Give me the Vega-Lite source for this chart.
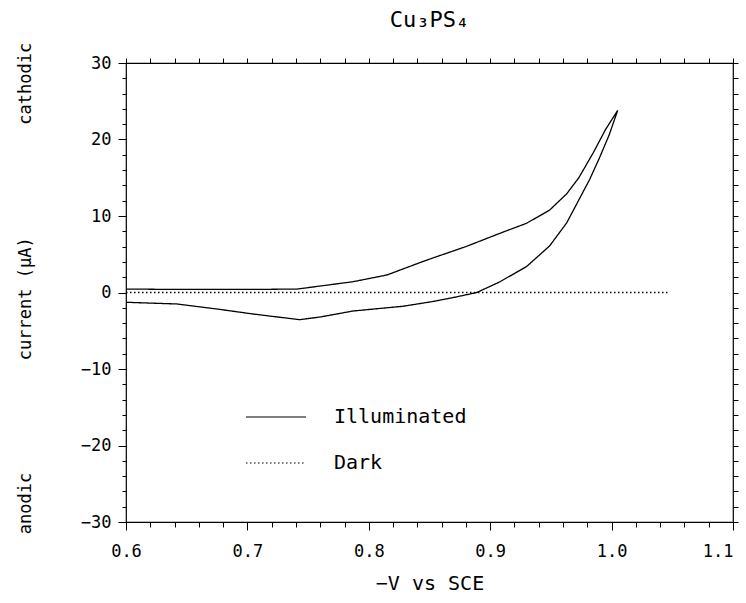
{
  "$schema": "https://vega.github.io/schema/vega-lite/v6.json",
  "width": 607,
  "height": 459,
  "autosize": {"type": "none"},
  "padding": {"left": 126, "top": 63, "right": 13, "bottom": 81},
  "background": "white",
  "config": {
    "view": {"stroke": "black", "strokeWidth": 1.2},
    "font": "DejaVu Sans Mono",
    "axis": {
      "domain": false,
      "grid": false,
      "labelFont": "DejaVu Sans Mono",
      "labelFontSize": 17,
      "labelColor": "black",
      "tickColor": "black",
      "tickWidth": 1,
      "titleFont": "DejaVu Sans Mono",
      "titleColor": "black",
      "titleFontWeight": "normal",
      "labelFlush": false,
      "labelOverlap": false
    }
  },
  "title": {
    "text": "Cu\u2083PS\u2084",
    "font": "DejaVu Sans Mono",
    "fontSize": 22,
    "fontWeight": "normal",
    "color": "black",
    "offset": 10
  },
  "data": {
    "values": [
      {"series": "Illuminated", "k": 1, "v": 0.600, "i": 0.45},
      {"series": "Illuminated", "k": 2, "v": 0.642, "i": 0.40},
      {"series": "Illuminated", "k": 3, "v": 0.704, "i": 0.40},
      {"series": "Illuminated", "k": 4, "v": 0.741, "i": 0.45},
      {"series": "Illuminated", "k": 5, "v": 0.787, "i": 1.41},
      {"series": "Illuminated", "k": 6, "v": 0.815, "i": 2.29},
      {"series": "Illuminated", "k": 7, "v": 0.842, "i": 3.90},
      {"series": "Illuminated", "k": 8, "v": 0.852, "i": 4.47},
      {"series": "Illuminated", "k": 9, "v": 0.880, "i": 6.00},
      {"series": "Illuminated", "k": 10, "v": 0.908, "i": 7.74},
      {"series": "Illuminated", "k": 11, "v": 0.930, "i": 9.05},
      {"series": "Illuminated", "k": 12, "v": 0.949, "i": 10.78},
      {"series": "Illuminated", "k": 13, "v": 0.963, "i": 12.9},
      {"series": "Illuminated", "k": 14, "v": 0.973, "i": 15.0},
      {"series": "Illuminated", "k": 15, "v": 0.985, "i": 18.3},
      {"series": "Illuminated", "k": 16, "v": 0.995, "i": 21.3},
      {"series": "Illuminated", "k": 17, "v": 1.005, "i": 23.8},
      {"series": "Illuminated", "k": 18, "v": 0.998, "i": 20.6},
      {"series": "Illuminated", "k": 19, "v": 0.990, "i": 17.6},
      {"series": "Illuminated", "k": 20, "v": 0.982, "i": 14.8},
      {"series": "Illuminated", "k": 21, "v": 0.973, "i": 12.1},
      {"series": "Illuminated", "k": 22, "v": 0.963, "i": 9.1},
      {"series": "Illuminated", "k": 23, "v": 0.949, "i": 6.1},
      {"series": "Illuminated", "k": 24, "v": 0.930, "i": 3.4},
      {"series": "Illuminated", "k": 25, "v": 0.908, "i": 1.4},
      {"series": "Illuminated", "k": 26, "v": 0.889, "i": 0.0},
      {"series": "Illuminated", "k": 27, "v": 0.870, "i": -0.65},
      {"series": "Illuminated", "k": 28, "v": 0.852, "i": -1.2},
      {"series": "Illuminated", "k": 29, "v": 0.828, "i": -1.8},
      {"series": "Illuminated", "k": 30, "v": 0.787, "i": -2.42},
      {"series": "Illuminated", "k": 31, "v": 0.760, "i": -3.2},
      {"series": "Illuminated", "k": 32, "v": 0.743, "i": -3.55},
      {"series": "Illuminated", "k": 33, "v": 0.704, "i": -2.8},
      {"series": "Illuminated", "k": 34, "v": 0.677, "i": -2.2},
      {"series": "Illuminated", "k": 35, "v": 0.642, "i": -1.5},
      {"series": "Illuminated", "k": 36, "v": 0.600, "i": -1.28},
      {"series": "Dark", "k": 1, "v": 0.600, "i": 0.0},
      {"series": "Dark", "k": 2, "v": 1.046, "i": 0.0}
    ]
  },
  "layer": [
    {
      "mark": {"type": "line", "color": "black", "strokeWidth": 1.3},
      "encoding": {
        "x": {
          "field": "v", "type": "quantitative",
          "scale": {"domain": [0.6, 1.1], "nice": false, "zero": false},
          "axis": {
            "orient": "bottom",
            "values": [0.6, 0.7, 0.8, 0.9, 1.0, 1.1],
            "format": ".1f",
            "tickSize": 8,
            "labelPadding": 13,
            "labelAlign": {"condition": {"test": "datum.value >= 1.09", "value": "right"}, "value": "center"},
            "labelDx": {"condition": {"test": "datum.value >= 1.09", "value": 13}, "value": 0},
            "title": "\u2212V vs SCE",
            "titleFontSize": 20,
            "titleX": 303.5,
            "titleY": 61,
            "titleAlign": "center",
            "titleBaseline": "middle"
          }
        },
        "y": {
          "field": "i", "type": "quantitative",
          "scale": {"domain": [-30, 30], "nice": false, "zero": false},
          "axis": {
            "orient": "left",
            "values": [-30, -20, -10, 0, 10, 20, 30],
            "tickSize": 8,
            "labelPadding": 7,
            "title": "anodic\u00a0\u00a0\u00a0\u00a0\u00a0\u00a0\u00a0\u00a0\u00a0\u00a0\u00a0current (\u03bcA)\u00a0\u00a0\u00a0\u00a0\u00a0\u00a0\u00a0\u00a0\u00a0\u00a0\u00a0cathodic",
            "titleFontSize": 17,
            "titleX": -101,
            "titleY": 225,
            "titleAngle": 270,
            "titleAlign": "center",
            "titleBaseline": "middle"
          }
        },
        "strokeDash": {
          "field": "series", "type": "nominal",
          "scale": {"domain": ["Illuminated", "Dark"], "range": [[1, 0], [1.5, 2.5]]},
          "legend": {
            "orient": "none",
            "legendX": 119,
            "legendY": 331,
            "title": null,
            "symbolType": "stroke",
            "symbolSize": 3600,
            "symbolStrokeWidth": 1.2,
            "symbolStrokeColor": "black",
            "labelFont": "DejaVu Sans Mono",
            "labelFontSize": 20,
            "labelColor": "black",
            "labelOffset": 27,
            "clipHeight": 46,
            "rowPadding": 0,
            "padding": 0
          }
        },
        "order": {"field": "k", "type": "quantitative"}
      }
    },
    {
      "mark": {"type": "line", "opacity": 0},
      "encoding": {
        "x": {
          "field": "v", "type": "quantitative",
          "axis": {
            "orient": "bottom",
            "values": [0.62, 0.64, 0.66, 0.68, 0.72, 0.74, 0.76, 0.78, 0.82, 0.84, 0.86, 0.88, 0.92, 0.94, 0.96, 0.98, 1.02, 1.04, 1.06, 1.08],
            "tickSize": 5,
            "labels": false,
            "title": null
          }
        },
        "y": {
          "field": "i", "type": "quantitative",
          "axis": {
            "orient": "left",
            "values": [-28, -26, -24, -22, -18, -16, -14, -12, -8, -6, -4, -2, 2, 4, 6, 8, 12, 14, 16, 18, 22, 24, 26, 28],
            "tickSize": 4,
            "labels": false,
            "title": null
          }
        },
        "detail": {"field": "series"},
        "order": {"field": "k", "type": "quantitative"}
      }
    },
    {
      "mark": {"type": "line", "opacity": 0},
      "encoding": {
        "x": {
          "field": "v", "type": "quantitative",
          "axis": {
            "orient": "top",
            "values": [0.6, 0.62, 0.64, 0.66, 0.68, 0.7, 0.72, 0.74, 0.76, 0.78, 0.8, 0.82, 0.84, 0.86, 0.88, 0.9, 0.92, 0.94, 0.96, 0.98, 1.0, 1.02, 1.04, 1.06, 1.08, 1.1],
            "tickSize": 5,
            "labels": false,
            "title": null
          }
        },
        "y": {
          "field": "i", "type": "quantitative",
          "axis": {
            "orient": "right",
            "values": [-30, -28, -26, -24, -22, -20, -18, -16, -14, -12, -10, -8, -6, -4, -2, 0, 2, 4, 6, 8, 10, 12, 14, 16, 18, 20, 22, 24, 26, 28, 30],
            "tickSize": 5,
            "labels": false,
            "title": null
          }
        },
        "detail": {"field": "series"},
        "order": {"field": "k", "type": "quantitative"}
      }
    }
  ],
  "resolve": {"axis": {"x": "independent", "y": "independent"}}
}
